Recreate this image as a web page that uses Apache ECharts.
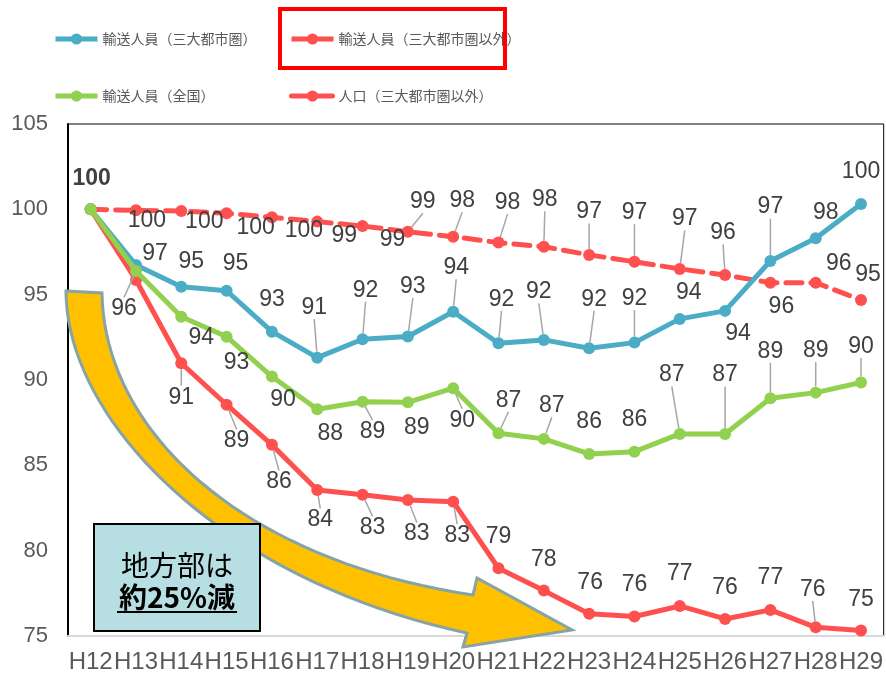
<!DOCTYPE html>
<html>
<head>
<meta charset="utf-8">
<script src="https://cdn.jsdelivr.net/npm/echarts@6/dist/echarts.min.js"></script>
<style>
html,body{margin:0;padding:0;background:#fff;}
#chart{width:886px;height:674px;}
</style>
</head>
<body>
<div id="chart"></div>
<script>
const categories = ['H12','H13','H14','H15','H16','H17','H18','H19','H20','H21','H22','H23','H24','H25','H26','H27','H28','H29'];
const yTicks = [75, 80, 85, 90, 95, 100, 105];
const urbanValues = [100, 96.74, 95.47, 95.23, 92.83, 91.31, 92.39, 92.55, 94.0, 92.15, 92.35, 91.86, 92.19, 93.58, 94.05, 96.97, 98.3, 100.31];
const ruralValues = [100, 95.86, 90.98, 88.55, 86.2, 83.56, 83.27, 82.97, 82.87, 78.97, 77.66, 76.3, 76.14, 76.76, 76.0, 76.53, 75.51, 75.32];
const nationalValues = [100, 96.39, 93.71, 92.54, 90.2, 88.29, 88.73, 88.69, 89.52, 86.88, 86.55, 85.67, 85.8, 86.84, 86.84, 88.93, 89.26, 89.85];
const populationValues = [100, 99.94, 99.9, 99.77, 99.53, 99.28, 99.02, 98.69, 98.4, 98.05, 97.81, 97.33, 96.93, 96.51, 96.15, 95.7, 95.7, 94.69];

const seriesNames = ['輸送人員（三大都市圏）', '輸送人員（三大都市圏以外）', '輸送人員（全国）', '人口（三大都市圏以外）'];

// label placement (offset from point, px) and leader-line flags
const urbanLabelOffsets = [[1,-31],[19,-11],[10,-25],[9,-27],[0,-32],[-3,-50],[3,-49],[5,-50],[3,-44],[3,-44],[-5,-48],[5,-49],[0,-44],[9,-26],[13,23],[0,-54],[10,-26],[0,-32]];
const ruralLabelOffsets = [null,null,[0,34],[10,36],[7,37],[3,30],[10,33],[9,34],[4,34],[0,-32],[0,-31],[1,-31],[0,-32],[0,-32],[0,-31],[0,-32],[-3,-38],[0,-31]];
const nationalLabelOffsets = [null,[-12,38],[20,21],[10,26],[11,23],[13,24],[10,30],[9,25],[9,32],[10,-33],[8,-33],[0,-32],[0,-32],[-8,-59],[0,-59],[0,-47],[0,-42],[0,-36]];
const populationLabelOffsets = [null,[11,10],[23,11],[29,14],[32,13],[27,14],[30,14],[15,-30],[9,-36],[9,-40],[1,-47],[0,-43],[0,-49],[5,-50],[-2,-42],[11,24],[23,-19],[7,-25]];
const urbanLeaders = [5,6,7,8,9,10,11,12,15];
const ruralLeaders = [2,3,4,5,6,7,8,16];
const nationalLeaders = [1,6,8,9,10,13,14,15,16,17];
const populationLeaders = [7,8,9,10,11,12,13,14];

const BLUE = '#4bacc6', RED = '#ff5050', GREEN = '#92d050';
const LABEL_FONT = 'Liberation Sans, Arial, sans-serif';

function buildData(values, offsets, leaders, boldFirst) {
  return values.map(function (v, i) {
    const item = { value: v };
    if (!offsets[i]) {
      item.label = { show: false };
    } else if (i === 0 && boldFirst) {
      item.label = { show: true, fontWeight: 'bold', color: '#404040' };
    }
    item.labelLine = { show: leaders.indexOf(i) >= 0 };
    return item;
  });
}

function makeSeries(name, values, color, offsets, leaders, dashed, boldFirst, z) {
  return {
    name: name,
    type: 'line',
    z: z,
    data: buildData(values, offsets, leaders, boldFirst),
    symbol: 'circle',
    symbolSize: 12,
    itemStyle: { color: color },
    lineStyle: { color: color, width: 5, type: dashed ? [16, 9] : 'solid', cap: dashed ? 'round' : 'butt' },
    label: {
      show: true,
      position: 'inside',
      formatter: function (p) { return String(Math.round(p.value)); },
      fontFamily: LABEL_FONT,
      fontSize: 23,
      color: '#404040'
    },
    labelLine: { show: false, lineStyle: { color: '#a6a6a6', width: 1.5 } },
    labelLayout: function (params) {
      const o = offsets[params.dataIndex];
      return o ? { dx: o[0], dy: o[1] } : {};
    },
    emphasis: { disabled: true },
    animation: false
  };
}

// decorative curved arrow outline (sampled cubic curves)
function cubic(p0, p1, p2, p3, n) {
  const pts = [];
  for (let k = 0; k <= n; k++) {
    const t = k / n, u = 1 - t;
    pts.push([
      u*u*u*p0[0] + 3*u*u*t*p1[0] + 3*u*t*t*p2[0] + t*t*t*p3[0],
      u*u*u*p0[1] + 3*u*u*t*p1[1] + 3*u*t*t*p2[1] + t*t*t*p3[1]
    ]);
  }
  return pts;
}
const arrowPts = [[66, 291]]
  .concat(cubic([102, 293], [104, 430], [240, 560], [473, 595], 40))
  .concat([[477, 578], [572, 630], [463, 647]])
  .concat(cubic([467, 633], [220, 580], [66, 420], [66, 291], 40));

const legendCommon = {
  padding: 0,
  itemWidth: 42,
  itemHeight: 14,
  selectedMode: false,
  lineStyle: { width: 5 },
  textStyle: { fontFamily: 'Noto Sans CJK JP', fontSize: 14, color: '#595959' }
};

const chart = echarts.init(document.getElementById('chart'), null, { renderer: 'canvas' });
chart.setOption({
  animation: false,
  backgroundColor: '#ffffff',
  legend: [
    Object.assign({ data: [seriesNames[0]], left: 53, top: 32 }, legendCommon),
    Object.assign({ data: [seriesNames[1]], left: 289, top: 32 }, legendCommon),
    Object.assign({ data: [seriesNames[2]], left: 53, top: 89 }, legendCommon),
    Object.assign({ data: [seriesNames[3]], left: 289, top: 89 }, legendCommon)
  ],
  grid: { left: 68, right: 1, top: 124, bottom: 37, show: true, borderColor: '#000', borderWidth: 1, containLabel: false },
  xAxis: {
    type: 'category',
    data: categories,
    boundaryGap: true,
    axisLine: { show: true, lineStyle: { color: '#d9d9d9', width: 2 } },
    axisTick: { show: false },
    axisLabel: { interval: 0, margin: 14, fontFamily: LABEL_FONT, fontSize: 24, color: '#595959' },
    splitLine: { show: false }
  },
  yAxis: {
    type: 'value',
    min: yTicks[0],
    max: yTicks[yTicks.length - 1],
    interval: 5,
    axisLine: { show: true, lineStyle: { color: '#000', width: 2 } },
    axisTick: { show: false },
    axisLabel: { margin: 20, fontFamily: LABEL_FONT, fontSize: 22, color: '#595959' },
    splitLine: { show: false }
  },
  series: [
    makeSeries(seriesNames[3], populationValues, RED, populationLabelOffsets, populationLeaders, true, false, 3),
    makeSeries(seriesNames[1], ruralValues, RED, ruralLabelOffsets, ruralLeaders, false, false, 4),
    makeSeries(seriesNames[0], urbanValues, BLUE, urbanLabelOffsets, urbanLeaders, false, true, 5),
    makeSeries(seriesNames[2], nationalValues, GREEN, nationalLabelOffsets, nationalLeaders, false, false, 6)
  ],
  graphic: [
    {
      type: 'rect', z: 100,
      shape: { x: 280, y: 9, width: 225, height: 59 },
      style: { fill: 'none', stroke: '#ff0000', lineWidth: 4 }
    },
    {
      type: 'polygon', z: 1,
      shape: { points: arrowPts },
      style: { fill: '#ffc000', stroke: '#86a3a6', lineWidth: 3 }
    },
    {
      type: 'rect', z: 50,
      shape: { x: 94, y: 524, width: 166, height: 107 },
      style: { fill: '#b7dee3', stroke: '#000', lineWidth: 2 }
    },
    {
      type: 'text', z: 51,
      style: { text: '地方部は', x: 177, y: 565, align: 'center', verticalAlign: 'middle', textAlign: 'center', textVerticalAlign: 'middle', fontSize: 28, fontFamily: 'Noto Sans CJK JP', fill: '#000' }
    },
    {
      type: 'text', z: 51,
      style: { text: '約25%減', x: 177, y: 597, align: 'center', verticalAlign: 'middle', textAlign: 'center', textVerticalAlign: 'middle', fontSize: 28, fontWeight: 'bold', fontFamily: 'Noto Sans CJK JP', fill: '#000' }
    },
    {
      type: 'line', z: 51,
      shape: { x1: 117, y1: 612, x2: 237, y2: 612 },
      style: { stroke: '#000', lineWidth: 2 }
    }
  ]
});
</script>
</body>
</html>
